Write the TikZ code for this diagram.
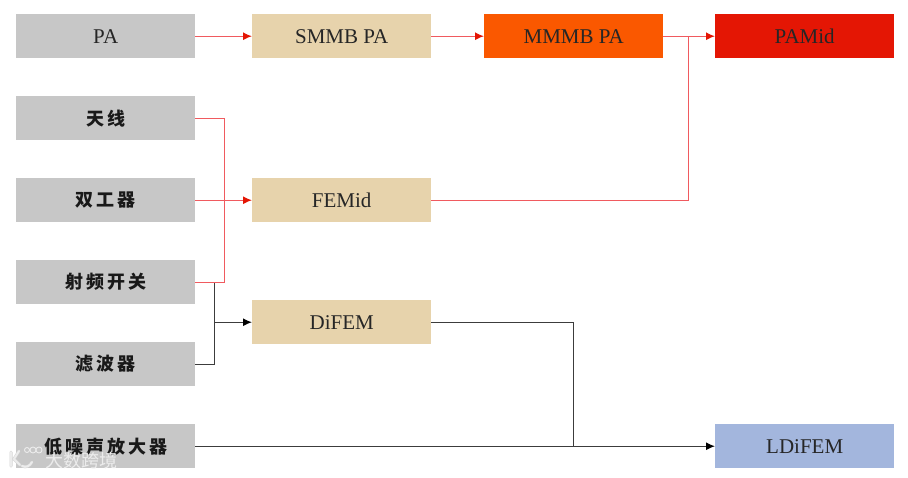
\documentclass[tikz,border=0pt]{standalone}
\usepackage{fontspec}
\setmainfont{Liberation Serif}
\newfontfamily\cjk{Noto Sans CJK SC}
\usetikzlibrary{arrows.meta}
\definecolor{gbox}{RGB}{199,199,199}
\definecolor{tbox}{RGB}{231,211,172}
\definecolor{obox}{RGB}{250,88,0}
\definecolor{rbox}{RGB}{228,22,4}
\definecolor{bbox}{RGB}{163,182,221}
\definecolor{rline}{RGB}{240,90,95}
\definecolor{kline}{RGB}{60,60,60}
\definecolor{wmark}{RGB}{236,236,236}
\tikzset{
  x=1pt,y=-1pt,
  blockbox/.style={minimum width=179pt,minimum height=44pt,inner sep=0pt,anchor=north west,text=black!85,font=\fontsize{21}{24}\selectfont},
  grey/.style={blockbox,fill=gbox},
  tan/.style={blockbox,fill=tbox},
  redline/.style={draw=rline,line width=1.2pt},
  redarrow/.style={redline,-{Latex[length=9pt,width=8pt,color=rbox]}},
  blackline/.style={draw=kline,line width=1.2pt},
  blackarrow/.style={blackline,-{Latex[length=9pt,width=8pt,color=black]}},
  cn/.style={text=black!90,font=\cjk\bfseries\fontsize{18}{22}\selectfont}
}
\newcommand{\spc}{\hspace{3pt}}
\begin{document}
\begin{tikzpicture}
\useasboundingbox (0,0) rectangle (908,477);
\node[grey] (pa) at (16,14) {PA};
\node[grey,cn] (ant) at (16,96) {天\spc 线};
\node[grey,cn] (dup) at (16,178) {双\spc 工\spc 器};
\node[grey,cn] (rfs) at (16,260) {射\spc 频\spc 开\spc 关};
\node[grey,cn] (flt) at (16,342) {滤\spc 波\spc 器};
\node[grey,cn] (lna) at (16,424) {低\spc 噪\spc 声\spc 放\spc 大\spc 器};
\node[tan] (smmb) at (252,14) {SMMB PA};
\node[blockbox,fill=obox] (mmmb) at (484,14) {MMMB PA};
\node[blockbox,fill=rbox] (pamid) at (715,14) {PAMid};
\node[tan] (femid) at (252,178) {FEMid};
\node[tan] (difem) at (252,300) {DiFEM};
\node[blockbox,fill=bbox] (ldifem) at (715,424) {LDiFEM};
\coordinate (rx) at (224.5,0);
\coordinate (kx) at (214.5,0);
\coordinate (px) at (688.5,0);
\coordinate (lx) at (573.5,0);
\coordinate (rj) at (dup.east -| rx);
\coordinate (kj) at (difem.west -| kx);
\coordinate (pj) at (pamid.west -| px);
\coordinate (lj) at (ldifem.west -| lx);
% black connectors
\draw[blackline] (rfs.east -| kj) -- (kj);
\draw[blackline] (flt.east) -| (kj);
\draw[blackarrow] (kj) -- (difem.west);
\draw[blackarrow] (lna.east) -- (ldifem.west);
\draw[blackline] (difem.east) -| (lj);
% red connectors
\draw[redarrow] (pa.east) -- (smmb.west);
\draw[redarrow] (smmb.east) -- (mmmb.west);
\draw[redarrow] (mmmb.east) -- (pamid.west);
\draw[redline] (femid.east) -| (pj);
\draw[redline] (ant.east) -| (rj);
\draw[redline] (rfs.east) -| (rj);
\draw[redarrow] (dup.east) -- (femid.west);
% watermark
\node[anchor=west,inner sep=0pt,text=wmark,font=\cjk\fontsize{18}{20}\selectfont] (wm) at (45,461) {大数跨境};
\draw[gbox!80,line width=3pt,line cap=round] (11,452) -- (11,466) (19,451) -- (14,459) -- (20,465) (22,466) .. controls (26,468) and (30,466) .. (32,462);
\draw[wmark,line width=2pt,line cap=round] (11,452) -- (11,466) (19,451) -- (14,459) -- (20,465) (22,466) .. controls (26,468) and (30,466) .. (32,462);
\draw[wmark,line width=.9pt] (27,450) circle (2.5) (33,450) circle (3) (39,450) circle (3);
\end{tikzpicture}
\end{document}
